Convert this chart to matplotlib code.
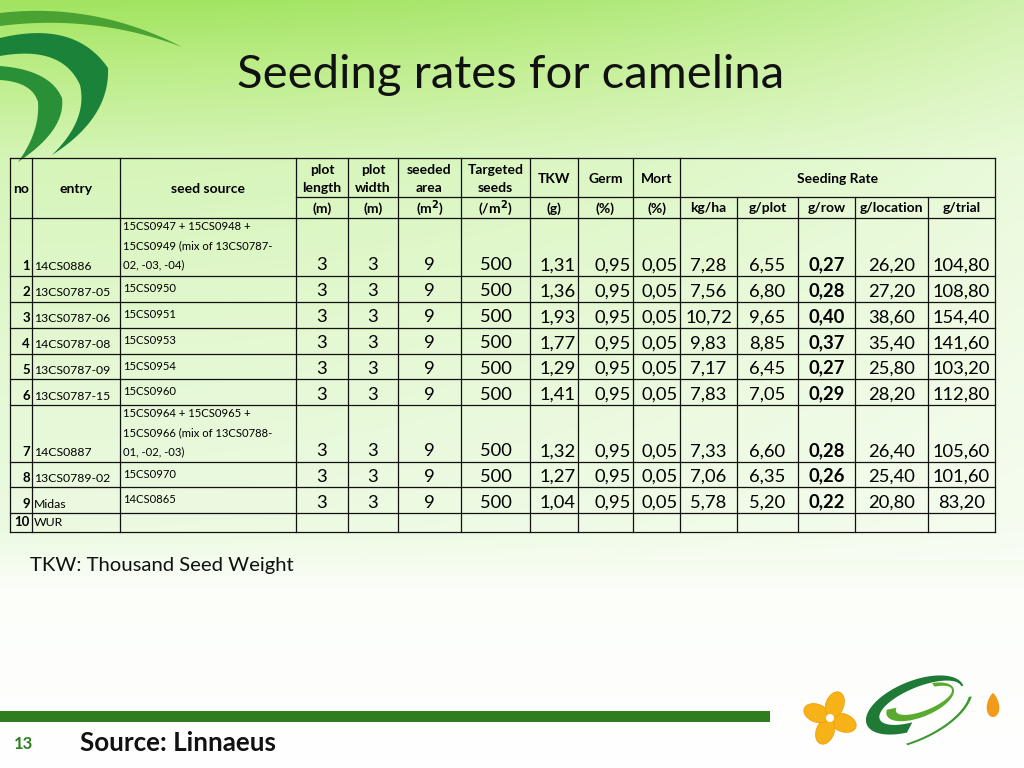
import numpy as np
import matplotlib
matplotlib.use('Agg')
import matplotlib.pyplot as plt
from matplotlib.patches import Polygon, Ellipse, Rectangle

# ---------------- data ----------------
nos = [1, 2, 3, 4, 5, 6, 7, 8, 9, 10]
entries = ['14CS0886', '13CS0787-05', '13CS0787-06', '14CS0787-08', '13CS0787-09',
           '13CS0787-15', '14CS0887', '13CS0789-02', 'Midas', 'WUR']
seed_sources = [
    ['15CS0947 + 15CS0948 +', '15CS0949 (mix of 13CS0787-', '02, -03, -04)'],
    ['15CS0950'], ['15CS0951'], ['15CS0953'], ['15CS0954'], ['15CS0960'],
    ['15CS0964 + 15CS0965 +', '15CS0966 (mix of 13CS0788-', '01, -02, -03)'],
    ['15CS0970'], ['14CS0865'], []]
plot_length = [3, 3, 3, 3, 3, 3, 3, 3, 3, None]
plot_width = [3, 3, 3, 3, 3, 3, 3, 3, 3, None]
seeded_area = [9, 9, 9, 9, 9, 9, 9, 9, 9, None]
targeted_seeds = [500, 500, 500, 500, 500, 500, 500, 500, 500, None]
tkw = [1.31, 1.36, 1.93, 1.77, 1.29, 1.41, 1.32, 1.27, 1.04, None]
germ = [0.95] * 9 + [None]
mort = [0.05] * 9 + [None]
kg_ha = [7.28, 7.56, 10.72, 9.83, 7.17, 7.83, 7.33, 7.06, 5.78, None]
g_plot = [6.55, 6.80, 9.65, 8.85, 6.45, 7.05, 6.60, 6.35, 5.20, None]
g_row = [0.27, 0.28, 0.40, 0.37, 0.27, 0.29, 0.28, 0.26, 0.22, None]
g_location = [26.20, 27.20, 38.60, 35.40, 25.80, 28.20, 26.40, 25.40, 20.80, None]
g_trial = [104.80, 108.80, 154.40, 141.60, 103.20, 112.80, 105.60, 101.60, 83.20, None]

header_top = ['plot\nlength', 'plot\nwidth', 'seeded\narea', 'Targeted\nseeds', 'TKW', 'Germ', 'Mort']
header_units = ['(m)', '(m)', '(m$\\mathbf{^2}$)', '(/m$\\mathbf{^2}$)', '(g)', '(%)', '(%)',
                'kg/ha', 'g/plot', 'g/row', 'g/location', 'g/trial']

title = 'Seeding rates for camelina'
footnote = 'TKW: Thousand Seed Weight'
source = 'Source: Linnaeus'
page = '13'

FONT = 'Lato'

# ---------------- figure ----------------
fig = plt.figure(figsize=(10.24, 7.68), dpi=100)
ax = fig.add_axes([0, 0, 1, 1])
ax.set_xlim(0, 1024)
ax.set_ylim(768, 0)
ax.axis('off')

# background gradient
H = 768
yy = np.arange(H)
stops_y = [0, 60, 160, 350, 530, 590, 768]
stops_c = np.array([[160, 228, 95], [185, 236, 130], [214, 245, 185], [228, 248, 210],
                    [236, 250, 226], [252, 254, 250], [255, 255, 255]]) / 255.
grad = np.stack([np.interp(yy, stops_y, stops_c[:, k]) for k in range(3)], axis=1)
img = np.repeat(grad[:, None, :], 64, axis=1)
xs = np.linspace(0, 1, 64)
light = (xs ** 2)[None, :, None] * 0.06 * (yy < 560)[:, None, None]
img = np.clip(img + light * (1 - img) * 8, 0, 1)
ax.imshow(img, extent=(0, 1024, 768, 0), aspect='auto', zorder=0, interpolation='bilinear')


def bez(p0, p1, p2, n=60):
    s = np.linspace(0, 1, n)[:, None]
    p0, p1, p2 = map(np.array, (p0, p1, p2))
    return (1 - s) ** 2 * p0 + 2 * (1 - s) * s * p1 + s ** 2 * p2


def band(outer_pts, inner_pts, color, z=1):
    pts = np.r_[outer_pts, inner_pts[::-1]]
    ax.add_patch(Polygon(pts, closed=True, fc=color, ec='none', zorder=z))


# top-left swooshes
band(bez((0, 13), (95, 2), (182, 47)), bez((0, 26), (95, 14), (182, 47)), '#4aa232')
o = np.r_[bez((0, 38), (75, 20), (108, 68)), bez((108, 68), (110, 118), (52, 155))[1:]]
i = np.r_[bez((0, 56), (62, 45), (80, 85)), bez((80, 85), (88, 120), (52, 155))[1:]]
band(o, i, '#1a8239')
o2 = np.r_[bez((0, 66), (50, 70), (62, 98)), bez((62, 98), (66, 130), (18, 162))[1:]]
i2 = np.r_[bez((0, 80), (32, 82), (38, 102)), bez((38, 102), (40, 132), (18, 162))[1:]]
band(o2, i2, '#2a9038')

# title
ax.text(511, 88, title, fontsize=34, family=FONT, ha='center', va='baseline', color='#111111', zorder=5)

# ---------------- table ----------------
cols = [10, 32, 120, 296, 348, 398, 461, 530, 578, 633, 680, 737, 798, 855, 928, 995]
h_top, h_mid, h_bot = 158, 197, 218
row_bottoms = [276, 302, 328, 354, 379, 405, 462, 487, 513, 532]
row_tops = [h_bot] + row_bottoms[:-1]
lw = 0.9
lc = '#111111'

ax.plot([cols[0], cols[-1]], [h_top, h_top], color=lc, lw=lw, zorder=4)
ax.plot([cols[3], cols[-1]], [h_mid, h_mid], color=lc, lw=lw, zorder=4)
ax.plot([cols[0], cols[-1]], [h_bot, h_bot], color=lc, lw=lw, zorder=4)
for yb in row_bottoms:
    ax.plot([cols[0], cols[-1]], [yb, yb], color=lc, lw=lw, zorder=4)
for k, x in enumerate(cols):
    y0 = h_mid if k in (11, 12, 13, 14) else h_top
    ax.plot([x, x], [y0, row_bottoms[-1]], color=lc, lw=lw, zorder=4)

hfs = 10
for k, lab in enumerate(['no', 'entry', 'seed source']):
    ax.text((cols[k] + cols[k + 1]) / 2, 193, lab, fontsize=hfs, fontweight='bold', family=FONT,
            ha='center', va='baseline', zorder=5)
for j, lab in enumerate(header_top):
    xc = (cols[3 + j] + cols[4 + j]) / 2
    if '\n' in lab:
        l1, l2 = lab.split('\n')
        ax.text(xc, 173.5, l1, fontsize=hfs, fontweight='bold', family=FONT, ha='center', va='baseline', zorder=5)
        ax.text(xc, 192.5, l2, fontsize=hfs, fontweight='bold', family=FONT, ha='center', va='baseline', zorder=5)
    else:
        ax.text(xc, 183, lab, fontsize=hfs, fontweight='bold', family=FONT, ha='center', va='baseline', zorder=5)
ax.text((cols[10] + cols[15]) / 2, 183, 'Seeding Rate', fontsize=hfs, fontweight='bold', family=FONT,
        ha='center', va='baseline', zorder=5)
for j, lab in enumerate(header_units):
    xc = (cols[3 + j] + cols[4 + j]) / 2
    ax.text(xc, 212.5, lab, fontsize=hfs, fontweight='bold', family=FONT, ha='center', va='baseline', zorder=5)


def fmt(v, dec):
    if v is None:
        return ''
    if dec == 0:
        return str(v)
    return f'{v:.{dec}f}'.replace('.', ',')


num_cols = [(plot_length, 0, 'c', False), (plot_width, 0, 'c', False), (seeded_area, 0, 'c', False),
            (targeted_seeds, 0, 'c', False), (tkw, 2, 'r', False), (germ, 2, 'r', False), (mort, 2, 'r', False),
            (kg_ha, 2, 'c', False), (g_plot, 2, 'c', False), (g_row, 2, 'c', True),
            (g_location, 2, 'c', False), (g_trial, 2, 'c', False)]

nfs = 13.2
for r in range(len(nos)):
    yb = row_bottoms[r]
    yt = row_tops[r]
    ax.text(cols[1] - 2, yb - 5.5, str(nos[r]), fontsize=9.5, fontweight='bold', family=FONT,
            ha='right', va='baseline', zorder=5)
    ax.text(cols[1] + 2, yb - 5.5, entries[r], fontsize=8.8, family=FONT, ha='left', va='baseline', zorder=5)
    lines = seed_sources[r]
    if len(lines) == 1:
        ax.text(cols[2] + 3, yt + 16, lines[0], fontsize=8.1, family=FONT, ha='left', va='baseline', zorder=5)
    else:
        for k, ln in enumerate(lines):
            ax.text(cols[2] + 3, yt + 12 + 19 * k, ln, fontsize=8.1, family=FONT, ha='left',
                    va='baseline', zorder=5)
    for j, (arr, dec, al, bold) in enumerate(num_cols):
        s_ = fmt(arr[r], dec)
        x0, x1 = cols[3 + j], cols[4 + j]
        if al == 'c':
            ax.text((x0 + x1) / 2, yb - 5.5, s_, fontsize=nfs, family=FONT, ha='center', va='baseline',
                    fontweight='bold' if bold else 'normal', zorder=5)
        else:
            ax.text(x1 - 2.5, yb - 5.5, s_, fontsize=nfs, family=FONT, ha='right', va='baseline',
                    fontweight='bold' if bold else 'normal', zorder=5)

ax.text(30, 571, footnote, fontsize=14.6, family=FONT, ha='left', va='baseline', color='#111111', zorder=5)

# bottom bar
ax.add_patch(Rectangle((0, 711), 770, 11, fc='#2e7d1e', ec='none', zorder=3))
ax.text(14, 749, page, fontsize=12, fontweight='bold', family=FONT, color='#2e7d1e', ha='left',
        va='baseline', zorder=5)
ax.text(80, 751, source, fontsize=18.7, fontweight='bold', family=FONT, color='#111111', ha='left',
        va='baseline', zorder=5)

# logo (bottom right)
fc_ = (830, 718)
for ang in [20, 110, 200, 290]:
    t = np.radians(ang)
    ax.add_patch(Ellipse((fc_[0] + 14 * np.cos(t), fc_[1] + 14 * np.sin(t)), 27, 18, angle=ang,
                         fc='#f6b216', ec='#f09a10', lw=0.5, zorder=5))
ax.add_patch(Ellipse(fc_, 8, 8, fc='white', ec='none', zorder=6))
th = np.radians(-22)
cx, cy = 915, 705


def rot_crescent(a1, b1, a2, b2, dx2, t0, t1, color, off=(0, 0)):
    t = np.radians(np.linspace(t0, t1, 100))
    o_ = np.c_[a1 * np.cos(t), b1 * np.sin(t)]
    i_ = np.c_[dx2 + a2 * np.cos(t[::-1]), b2 * np.sin(t[::-1])]
    pts = np.r_[o_, i_] + np.array(off)
    R = np.array([[np.cos(th), -np.sin(th)], [np.sin(th), np.cos(th)]])
    pts = pts @ R.T + np.array([cx, cy])
    ax.add_patch(Polygon(pts, closed=True, fc=color, ec='none', zorder=5))


rot_crescent(52, 24, 44, 16, 6, 110, 360, '#1f7a35')
rot_crescent(36, 15, 30, 10, 4, -60, 200, '#5aaa30', off=(6, -1))
rot_crescent(70, 33, 68, 31, -1, 20, 100, '#3a9a2e', off=(-10, 2))
t = np.linspace(0, 2 * np.pi, 100)
dpts = np.c_[993 + 7.5 * np.sin(t) * np.sin(t / 2) ** 0.6, 693 + 12 * (1 - np.cos(t))]
ax.add_patch(Polygon(dpts, closed=True, fc='#f39a1b', ec='none', zorder=5))

fig.savefig('out.png', dpi=100)
